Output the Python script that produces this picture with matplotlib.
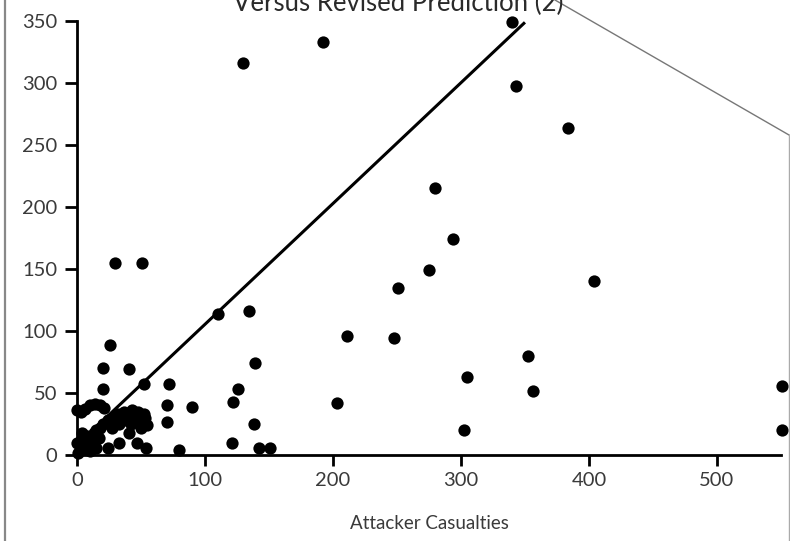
import matplotlib
matplotlib.use("Agg")
import matplotlib.pyplot as plt
from matplotlib.lines import Line2D

# battles: attacker casualties vs. defender casualties
attacker = [130, 192, 340, 343, 384, 280, 294, 275, 251, 404, 248, 211, 30, 51,
            110, 134, 139, 203, 305, 302, 352, 356, 138, 142, 151, 551, 551,
            26, 20, 41, 20, 52, 72, 70, 70, 90, 122, 126, 121, 80,
            # dense group near the origin
            0, 3, 6, 10, 14, 18, 21, 1, 2, 3, 5, 7, 8, 10, 11, 12, 13, 15, 15,
            17, 18, 4, 0, 20, 24, 27, 28, 30, 32, 33, 35, 37, 38, 40, 42, 43,
            45, 47, 48, 50, 52, 55, 53, 24, 33, 47, 54, 41]
defender = [316, 333, 349, 298, 264, 215, 174, 149, 135, 140, 94, 96, 155, 155,
            114, 116, 74, 42, 63, 20, 80, 52, 25, 6, 6, 56, 20,
            89, 70, 69, 53, 57, 57, 40, 27, 39, 43, 53, 10, 4,
            36, 35, 37, 40, 41, 40, 38, 2, 8, 12, 5, 10, 15, 3, 8, 12, 18, 6, 20,
            14, 22, 18, 10, 25, 28, 22, 30, 27, 33, 25, 30, 35, 28, 32, 25, 36,
            30, 27, 35, 22, 33, 24, 30, 6, 10, 10, 6, 18]

# revised prediction line
pred_x = [0, 350]
pred_y = [8, 349]

xticks = [0, 100, 200, 300, 400, 500]
yticks = [0, 50, 100, 150, 200, 250, 300, 350]

plt.rcParams["font.family"] = ["Lato", "DejaVu Sans"]

fig = plt.figure(figsize=(7.9, 5.41), dpi=100)
ax = fig.add_axes([0.0975, 0.159, 0.891, 0.802])

ax.plot(pred_x, pred_y, color="black", lw=2.2, solid_capstyle="butt", zorder=2)
ax.scatter(attacker, defender, s=78, color="black", linewidths=0, zorder=3,
           clip_on=False)

ax.set_xlim(0, 550)
ax.set_ylim(0, 350)
ax.set_xticks(xticks)
ax.set_yticks(yticks)
for s in ("top", "right"):
    ax.spines[s].set_visible(False)
for s in ("left", "bottom"):
    ax.spines[s].set_linewidth(2.0)
ax.tick_params(axis="both", direction="out", length=9, width=2.0,
               labelsize=14.5, labelcolor="#3a3a3a", pad=5)
ax.tick_params(axis="x", length=8, pad=4)
ax.set_xlabel("Attacker Casualties", fontsize=13.5, color="#3a3a3a", labelpad=19)

fig.text(0.504, 1 - 11 / 541, "Versus Revised Prediction (2)", ha="center",
         va="baseline", fontsize=18.5, color="#2a2a2a")

# page border lines
fig.add_artist(Line2D([5 / 790, 5 / 790], [0, 1], transform=fig.transFigure,
                      color="#888888", lw=1.6))
fig.add_artist(Line2D([555 / 790, 789 / 790], [1, 1 - 135 / 541],
                      transform=fig.transFigure, color="#777777", lw=1.0))
fig.add_artist(Line2D([789 / 790, 789 / 790], [1 - 135 / 541, 0],
                      transform=fig.transFigure, color="#aaaaaa", lw=1.0))

fig.savefig("out.png", dpi=100)
